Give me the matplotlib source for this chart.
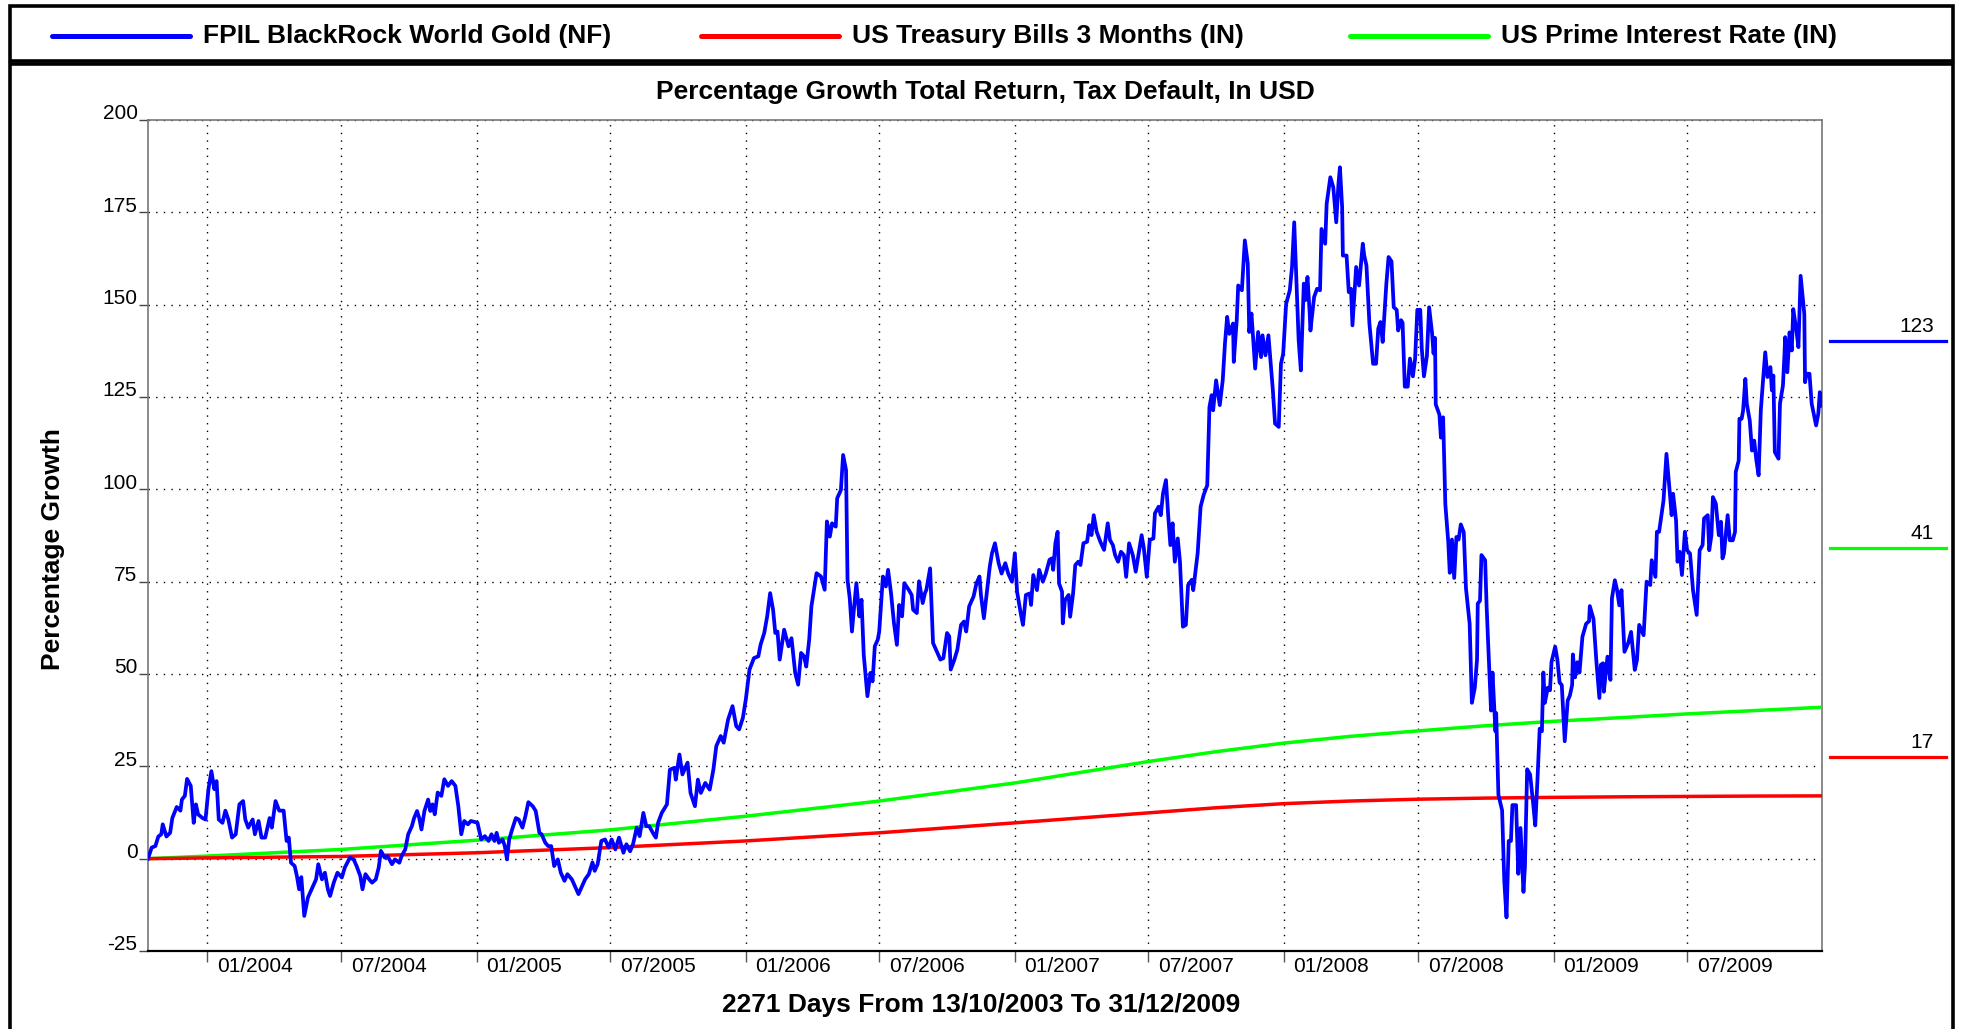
import numpy as np
import matplotlib
matplotlib.use("Agg")
import matplotlib.pyplot as plt
import matplotlib.dates as mdates
from matplotlib.patches import Rectangle
from matplotlib.lines import Line2D

plt.rcParams['font.family'] = ['Liberation Sans', 'DejaVu Sans']

# data: days since 13/10/2003, percentage growth
START = np.datetime64('2003-10-13')
END = np.datetime64('2009-12-31')

SERIES_NAMES = ['FPIL BlackRock World Gold (NF)', 'US Treasury Bills 3 Months (IN)',
                'US Prime Interest Rate (IN)']
SERIES_COLORS = ['#0000ff', '#ff0000', '#00ff00']
FINAL_LABELS = ['123', '17', '41']

gold_day = [
    0, 5, 10, 14, 18, 20, 25, 30, 33, 39, 44, 46, 50, 53, 58, 62, 65, 68, 74, 78,
    82, 86, 90, 93, 96, 101, 105, 109, 114, 119, 124, 129, 132, 136, 142, 145, 150, 154, 159, 165,
    168, 173, 178, 184, 188, 191, 194, 199, 202, 205, 208, 212, 217, 222, 228, 231, 236, 240, 244, 247,
    252, 257, 263, 267, 274, 279, 283, 288, 291, 295, 300, 304, 309, 313, 316, 321, 325, 331, 335, 341,
    344, 349, 353, 358, 361, 365, 368, 371, 375, 380, 383, 386, 389, 393, 398, 402, 407, 412, 417, 421,
    425, 429, 434, 438, 444, 447, 452, 457, 462, 466, 470, 473, 476, 481, 484, 487, 490, 494, 499, 503,
    508, 512, 516, 522, 526, 531, 534, 539, 543, 547, 551, 556, 560, 565, 569, 575, 579, 584, 589, 593,
    598, 603, 606, 610, 615, 620, 625, 629, 634, 639, 645, 649, 654, 658, 663, 667, 672, 676, 680, 686,
    689, 692, 697, 704, 708, 714, 716, 721, 725, 732, 736, 742, 746, 750, 756, 762, 767, 771, 777, 781,
    787, 793, 798, 802, 807, 811, 816, 822, 828, 831, 836, 840, 844, 848, 851, 854, 857, 863, 869, 873,
    878, 882, 886, 890, 893, 897, 900, 907, 913, 918, 921, 925, 928, 933, 935, 940, 943, 947, 949, 952,
    955, 958, 961, 965, 968, 971, 976, 980, 983, 986, 990, 992, 997, 1001, 1004, 1008, 1012, 1016, 1019, 1023,
    1026, 1032, 1036, 1038, 1043, 1046, 1051, 1054, 1056, 1061, 1065, 1071, 1075, 1079, 1084, 1087, 1089, 1094, 1098, 1103,
    1107, 1110, 1114, 1120, 1124, 1128, 1130, 1134, 1139, 1142, 1145, 1149, 1154, 1158, 1163, 1167, 1172, 1176, 1179, 1184,
    1187, 1191, 1196, 1198, 1201, 1206, 1209, 1214, 1218, 1223, 1226, 1228, 1231, 1234, 1236, 1240, 1241, 1244, 1249, 1251,
    1255, 1258, 1262, 1265, 1269, 1274, 1277, 1280, 1283, 1287, 1292, 1297, 1302, 1305, 1309, 1312, 1316, 1320, 1324, 1327,
    1331, 1336, 1340, 1345, 1348, 1351, 1355, 1359, 1364, 1366, 1371, 1374, 1377, 1381, 1384, 1387, 1390, 1393, 1397, 1400,
    1404, 1408, 1411, 1416, 1418, 1424, 1428, 1432, 1437, 1440, 1443, 1445, 1449, 1454, 1458, 1461, 1464, 1467, 1472, 1473,
    1477, 1479, 1484, 1488, 1492, 1494, 1497, 1502, 1506, 1510, 1512, 1516, 1520, 1526, 1529, 1534, 1537, 1540, 1544, 1549,
    1552, 1555, 1558, 1561, 1564, 1568, 1570, 1573, 1576, 1577, 1582, 1586, 1590, 1592, 1597, 1599, 1604, 1608, 1612, 1615,
    1617, 1620, 1621, 1626, 1629, 1632, 1634, 1639, 1643, 1648, 1650, 1653, 1657, 1662, 1666, 1669, 1672, 1675, 1680, 1683,
    1687, 1690, 1694, 1696, 1700, 1702, 1705, 1709, 1712, 1716, 1719, 1722, 1726, 1728, 1731, 1735, 1738, 1742, 1744, 1746,
    1747, 1752, 1754, 1757, 1760, 1764, 1766, 1769, 1772, 1775, 1778, 1781, 1785, 1788, 1793, 1796, 1800, 1803, 1804, 1807,
    1809, 1814, 1816, 1818, 1822, 1824, 1828, 1829, 1832, 1837, 1840, 1843, 1846, 1849, 1851, 1856, 1859, 1862, 1866, 1868,
    1871, 1875, 1879, 1882, 1885, 1888, 1891, 1893, 1895, 1899, 1902, 1904, 1909, 1912, 1915, 1918, 1922, 1926, 1929, 1932,
    1933, 1936, 1939, 1942, 1946, 1951, 1955, 1956, 1961, 1965, 1969, 1971, 1974, 1975, 1980, 1984, 1986, 1990, 1993, 1996,
    1999, 2003, 2008, 2012, 2017, 2020, 2023, 2029, 2033, 2038, 2040, 2045, 2047, 2050, 2056, 2060, 2065, 2067, 2069, 2073,
    2075, 2078, 2081, 2085, 2088, 2092, 2096, 2101, 2105, 2109, 2111, 2116, 2118, 2121, 2123, 2127, 2131, 2134, 2136, 2138,
    2143, 2146, 2150, 2153, 2154, 2158, 2159, 2162, 2164, 2167, 2169, 2173, 2176, 2179, 2182, 2185, 2188, 2191, 2194, 2197,
    2201, 2203, 2205, 2207, 2212, 2214, 2218, 2220, 2221, 2224, 2227, 2230, 2232, 2236, 2239, 2242, 2247, 2248, 2250, 2254,
    2257, 2263, 2266, 2268, 2271,
]
gold_val = [
    0, 3, 3.4, 6, 6.6, 9.3, 6, 7, 11, 14, 13, 16, 17, 21.6, 19.7, 9.7, 14.7, 12, 11, 10.6,
    18.8, 23.7, 18.8, 21, 10.6, 9.7, 13, 10.6, 5.7, 6.6, 14.7, 15.6, 10.6, 8.4, 10.6, 6.6, 10.2, 5.7, 5.7, 11,
    8.4, 15.6, 13, 13, 4.8, 5.7, -1.1, -2, -4.7, -8.3, -5, -15.5, -10.5, -8.3, -5.6, -1.5, -5.6, -3.8, -8.3, -10.1,
    -6.5, -3.8, -5.1, -2.4, 0.3, -0.2, -2, -4.7, -8.3, -4.2, -5.6, -6.5, -5.6, -2.4, 2.1, 0.3, 0.7, -1.5, -0.2, -1.1,
    0.7, 2.5, 6.6, 8.8, 11, 12.9, 11, 7.9, 12.9, 16, 12.9, 14.7, 12, 17.9, 17, 21.5, 19.7, 21, 19.7, 14.2,
    6.6, 10.2, 9.3, 10.2, 9.9, 9.7, 5.2, 6.1, 4.8, 6.6, 4.8, 7, 4.3, 5.2, 3.4, -0.2, 5.2, 7.9, 11, 10.6,
    8.4, 11.5, 15.3, 14.2, 12.9, 7, 6.6, 4.3, 3.4, 3.4, -2, -0.2, -3.8, -6, -4.2, -5.6, -7.4, -9.6, -7.4, -5.6,
    -4.2, -1, -3.3, -1.5, 4.8, 5.2, 3, 5.2, 2.5, 5.7, 1.6, 3.9, 2, 3.9, 8.4, 6.1, 12.4, 8.8, 8.8, 6.6,
    5.7, 9.7, 12.4, 14.7, 24.1, 24.6, 21.4, 28.2, 22.8, 26, 17.8, 14.2, 21.4, 17.8, 20.5, 18.7, 24.1, 30.5, 33.2, 31.4,
    37.7, 41.3, 35.9, 35, 38.1, 43.1, 51.2, 54.3, 54.8, 57.9, 61.1, 65.6, 71.9, 67.4, 61.1, 61.5, 53.9, 62, 57.5, 59.7,
    50.3, 47.1, 55.7, 54.8, 52, 59.3, 68.3, 77.3, 76.4, 72.8, 91.3, 87.2, 90.8, 89.9, 97.6, 99.8, 109.3, 105.2, 75.5, 70.5,
    61.5, 68.3, 74.6, 65.6, 70.1, 55.2, 44, 50.3, 48, 57.5, 59.3, 61.5, 76.4, 73.7, 78.2, 71.9, 63.8, 57.9, 68.7, 65.6,
    74.6, 72.8, 71.4, 67.4, 66.5, 75.1, 69.2, 71.9, 72.8, 78.6, 58.4, 55.7, 53.9, 54.3, 61.1, 60.2, 51.2, 53.9, 56.6, 63.3,
    64.2, 61.5, 68.3, 71, 74.6, 76.4, 71.4, 65.1, 73.7, 79.1, 82.7, 85.4, 80, 77.2, 80, 77.2, 75, 82.7, 72.3, 66.4,
    63.3, 71.4, 71.8, 68.7, 76.8, 72.7, 78.2, 75, 77.2, 80.9, 81.3, 78.2, 85.4, 88.5, 74.5, 72.3, 63.7, 70, 71.4, 65.5,
    71.8, 79.5, 80.4, 79.5, 85.4, 85.8, 90.3, 87.6, 93, 88.5, 85.8, 83.6, 90.8, 86.3, 84.9, 82.2, 80.4, 83.1, 82.2, 76.3,
    85.4, 82.2, 77.7, 84, 87.6, 84, 76.3, 86.3, 86.7, 93.5, 95.3, 93, 98.9, 102.5, 93, 84.9, 90.8, 80.4, 86.7, 80.4,
    62.8, 63.3, 74.1, 75.5, 72.7, 82.7, 95.3, 98.4, 101.1, 122.3, 125.5, 121.4, 129.5, 122.8, 129.5, 139.4, 146.7, 142.1, 144.9, 134.5,
    145.8, 155.2, 153.9, 167.4, 161.1, 142.6, 147.6, 132.7, 142.6, 135.8, 141.7, 136.3, 141.7, 126.9, 117.8, 116.9, 134, 136.7, 150.2, 153.9,
    160.2, 172.3, 156.6, 140.4, 132.2, 155.7, 151.2, 157.5, 147.6, 143, 152.1, 154.3, 153.9, 170.5, 166.5, 177.3, 184.5, 181.8, 172.3, 182.7,
    187.2, 176.4, 163.3, 163.3, 153.4, 154.3, 144.4, 160.2, 155.2, 166.5, 163.3, 160.6, 144.9, 134, 134, 143.5, 145.3, 139.9, 155.7, 162.9,
    161.7, 149.3, 148.6, 143, 145.8, 145.1, 127.8, 127.8, 135.4, 130.6, 135.4, 148.6, 148.6, 138.2, 130.6, 136.1, 149.3, 142.3, 136.8, 141,
    123, 120.2, 114, 119.5, 96, 85.7, 77.4, 86.4, 76, 87.1, 86.4, 90.5, 88.4, 73.2, 63.6, 42.2, 46.3, 53.9, 69.1, 69.8,
    82.2, 80.8, 68.4, 58.7, 40.1, 50.4, 34.5, 39.4, 17.3, 13.1, -6.2, -15.9, 4.8, 4.8, 14.5, 14.5, -4.1, 8.3, -9, -2.1,
    24.2, 22.8, 15.2, 9, 21.4, 35.2, 34.5, 50.4, 42.2, 46.3, 45.6, 53.2, 57.4, 53.9, 47.7, 47, 31.8, 42.8, 44.2, 47,
    55.3, 49.1, 53.2, 50.4, 60.1, 63.6, 64.3, 68.4, 64.9, 53.2, 43.5, 52.5, 52.9, 45.2, 54.7, 48.4, 70.5, 75.4, 72.7, 68.6,
    72.7, 56, 58.3, 61.4, 51.1, 53.8, 63.3, 60.5, 75, 74.1, 80.8, 76.3, 88.5, 88.5, 97, 109.6, 98, 93, 98.8, 91.6,
    80.4, 83.1, 76.8, 88.5, 83.5, 82.6, 72.7, 66, 83.5, 84.9, 92.1, 93, 83.5, 87.6, 97.9, 96.1, 87.6, 91.2, 81.3, 82.6,
    93, 86.2, 86.2, 88.5, 104.7, 107.8, 119.1, 119.1, 121.4, 129.9, 123.2, 118.6, 110.5, 113.2, 107.8, 103.8, 121.4, 129.5, 137.1, 130.4,
    133.1, 126.8, 130.8, 110.1, 108.3, 123.2, 128.1, 136.2, 141.2, 131.7, 142.5, 137.6, 148.8, 143.4, 138.5, 157.8, 147.5, 129, 131.3, 131.3,
    123.2, 117.3, 120.5, 126.3, 122.7,
]

tbill_day = [0, 80, 262, 446, 627, 811, 992, 1176, 1357, 1450, 1541, 1630, 1723, 1815, 1907, 2000, 2088, 2180, 2271]
tbill_val = [0, 0.2, 0.6, 1.6, 3.0, 4.8, 7.0, 9.7, 12.4, 13.8, 14.9, 15.6, 16.1, 16.4, 16.6, 16.75, 16.85, 16.95, 17.0]

prime_day = [0, 80, 262, 446, 627, 811, 992, 1176, 1357, 1450, 1541, 1630, 1723, 1815, 1907, 2000, 2088, 2180, 2271]
prime_val = [0, 0.7, 2.5, 5.0, 7.8, 11.5, 15.6, 20.5, 26.3, 29.0, 31.3, 33.1, 34.6, 36.0, 37.2, 38.2, 39.2, 40.1, 41.0]

W, H = 1963, 1029


def fx(px):
    return px / W


def fy(py):
    # pixel from top -> figure fraction
    return 1 - py / H


def to_dates(days):
    return START + np.array(days, dtype='timedelta64[D]')


fig = plt.figure(figsize=(W / 100, H / 100), dpi=100)
ax = fig.add_axes([fx(148), fy(951), fx(1822 - 148), (951 - 120) / H])

ax.plot(to_dates(prime_day), prime_val, color=SERIES_COLORS[2], lw=2.5, zorder=3)
ax.plot(to_dates(tbill_day), tbill_val, color=SERIES_COLORS[1], lw=2.5, zorder=4)
ax.plot(to_dates(gold_day), gold_val, color=SERIES_COLORS[0], lw=2.7, zorder=5,
        solid_joinstyle='round')

ax.set_xlim(START, END)
ax.set_ylim(-25, 200)

yticks = np.arange(-25, 201, 25)
ax.set_yticks(yticks)
ax.xaxis.set_major_locator(mdates.MonthLocator(bymonth=[1, 7]))
ax.set_xticklabels([])
ax.set_yticklabels([])
ax.tick_params(axis='y', direction='out', length=6.5, width=1, color='#444444')
ax.tick_params(axis='x', direction='out', length=8, width=1, color='#555555')

ax.grid(True, color='black', linestyle=(0, (1, 4.5)), linewidth=1.0)
ax.set_axisbelow(True)

for side in ['top', 'left', 'right']:
    ax.spines[side].set_color('#777777')
    ax.spines[side].set_linewidth(1.2)
ax.spines['bottom'].set_color('black')
ax.spines['bottom'].set_linewidth(1.6)

# y tick labels, sitting on the tick
for v in yticks:
    ax.annotate(str(v), xy=(0, v), xycoords=('axes fraction', 'data'),
                xytext=(-7.5, 0.5), textcoords='offset points',
                ha='right', va='baseline', fontsize=15)

# x tick labels to the right of each tick
fig.canvas.draw()
for t in ax.get_xticks():
    d = mdates.num2date(t)
    ax.annotate(d.strftime('%m/%Y'), xy=(t, 0), xycoords=('data', 'axes fraction'),
                xytext=(7, -4.5), textcoords='offset points',
                ha='left', va='top', fontsize=15)

# final value markers on the right
MARKER_FRAC = [0.734, 0.234, 0.485]
for lab, col, fr in zip(FINAL_LABELS, SERIES_COLORS, MARKER_FRAC):
    ax.add_line(Line2D([1.0048, 1.0741], [fr, fr], transform=ax.transAxes,
                       color=col, lw=2.3, clip_on=False))
    ax.text(1.0669, fr + 0.006, lab, transform=ax.transAxes, ha='right',
            va='bottom', fontsize=15)

# titles
fig.text(fx(985), fy(92), 'Percentage Growth Total Return, Tax Default, In USD',
         ha='center', va='center', fontsize=19, fontweight='bold')
fig.text(fx(981), fy(1005), '2271 Days From 13/10/2003 To 31/12/2009',
         ha='center', va='center', fontsize=19, fontweight='bold')
fig.text(fx(53), fy(549), 'Percentage Growth', rotation=90,
         ha='center', va='center', fontsize=19, fontweight='bold')

# frames
fig.patches.append(Rectangle((fx(10), fy(61)), fx(1953 - 10), (61 - 6) / H,
                             transform=fig.transFigure, fill=False,
                             edgecolor='black', lw=2.6))
fig.patches.append(Rectangle((fx(10), fy(1040)), fx(1953 - 10), (1040 - 64) / H,
                             transform=fig.transFigure, fill=False,
                             edgecolor='black', lw=2.6, clip_on=False))

# legend strip
for i, (name, col) in enumerate(zip(SERIES_NAMES, SERIES_COLORS)):
    x0 = 52 + i * 649
    fig.add_artist(Line2D([fx(x0), fx(x0 + 138)], [fy(36), fy(36)],
                          transform=fig.transFigure, color=col, lw=3.6,
                          solid_capstyle='round'))
    fig.text(fx(x0 + 151), fy(36), name, ha='left', va='center',
             fontsize=19, fontweight='bold')

fig.savefig('out.png', dpi=100)
